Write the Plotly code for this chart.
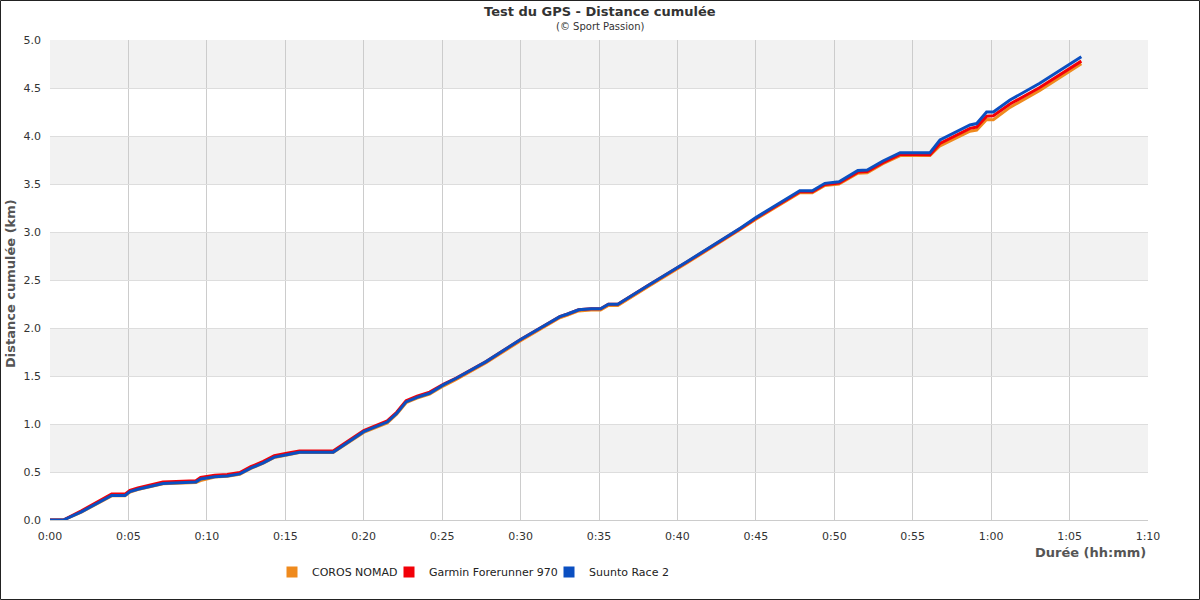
import plotly.graph_objects as go

# --- Data (time in minutes, distance in km) ---
minutes = [0, 0.85, 2.0, 3.0, 3.93, 4.78, 5.1, 5.6, 6.4, 7.2, 9.3, 9.6, 10.5, 11.3, 12.1,
           12.8, 13.6, 14.3, 15.1, 15.9, 18.05, 19.0, 20.0, 21.5, 22.1, 22.7, 23.4, 24.2,
           25.1, 25.9, 27.8, 30.0, 32.5, 33.0, 33.7, 34.5, 35.1, 35.6, 36.2, 38.2, 40.6,
           44.0, 45.0, 47.8, 48.6, 49.4, 50.3, 51.5, 52.1, 53.1, 54.2, 56.1, 56.74, 58.65,
           59.08, 59.71, 60.14, 61.2, 63.1, 65.75]

suunto = [0, 0, 0.085, 0.17, 0.255, 0.255, 0.295, 0.32, 0.347, 0.38, 0.395, 0.428, 0.45,
          0.458, 0.48, 0.54, 0.595, 0.655, 0.68, 0.705, 0.705, 0.81, 0.92, 1.02, 1.11, 1.23,
          1.278, 1.32, 1.41, 1.476, 1.65, 1.88, 2.118, 2.146, 2.19, 2.2, 2.2, 2.247, 2.247,
          2.45, 2.69, 3.04, 3.15, 3.43, 3.43, 3.507, 3.524, 3.64, 3.646, 3.74, 3.826, 3.826,
          3.958, 4.115, 4.13, 4.25, 4.25, 4.375, 4.55, 4.826]

garmin = [0, 0, 0.095, 0.183, 0.27, 0.27, 0.31, 0.335, 0.362, 0.395, 0.41, 0.443, 0.465,
          0.473, 0.495, 0.555, 0.61, 0.67, 0.695, 0.72, 0.72, 0.823, 0.932, 1.032, 1.122,
          1.242, 1.29, 1.332, 1.415, 1.478, 1.65, 1.88, 2.118, 2.146, 2.19, 2.2, 2.2, 2.247,
          2.247, 2.45, 2.687, 3.035, 3.144, 3.42, 3.42, 3.495, 3.509, 3.624, 3.63, 3.723,
          3.809, 3.806, 3.923, 4.08, 4.093, 4.207, 4.21, 4.333, 4.505, 4.78]

coros = [0, 0, 0.082, 0.167, 0.252, 0.252, 0.292, 0.317, 0.344, 0.377, 0.39, 0.41, 0.447,
         0.455, 0.477, 0.537, 0.592, 0.652, 0.677, 0.702, 0.702, 0.802, 0.912, 1.012, 1.102,
         1.222, 1.27, 1.312, 1.398, 1.464, 1.638, 1.868, 2.106, 2.134, 2.178, 2.188, 2.188,
         2.235, 2.235, 2.438, 2.677, 3.025, 3.134, 3.41, 3.41, 3.485, 3.499, 3.613, 3.618,
         3.711, 3.796, 3.796, 3.898, 4.05, 4.062, 4.172, 4.17, 4.298, 4.475, 4.752]

series_names = ["COROS NOMAD", "Garmin Forerunner 970", "Suunto Race 2"]
series_colors = ["#EF8A1D", "#F20008", "#0B4FC1"]

x_tick_vals = [0, 5, 10, 15, 20, 25, 30, 35, 40, 45, 50, 55, 60, 65, 70]
x_tick_text = ["0:00", "0:05", "0:10", "0:15", "0:20", "0:25", "0:30", "0:35", "0:40",
               "0:45", "0:50", "0:55", "1:00", "1:05", "1:10"]
y_tick_vals = [0, 0.5, 1, 1.5, 2, 2.5, 3, 3.5, 4, 4.5, 5]
y_tick_text = ["0.0", "0.5", "1.0", "1.5", "2.0", "2.5", "3.0", "3.5", "4.0", "4.5", "5.0"]
bands = [(0.5, 1.0), (1.5, 2.0), (2.5, 3.0), (3.5, 4.0), (4.5, 5.0)]

FONT = "DejaVu Sans, Noto Sans, sans-serif"

W, H = 1200, 600
L, R, T, B = 50, 52, 40, 80
pw, ph = W - L - R, H - T - B

def px_x(p):
    return (p - L) / pw

def px_y(p):
    return (H - B - p) / ph

fig = go.Figure()
for name, col, vals in zip(series_names, series_colors, [coros, garmin, suunto]):
    fig.add_trace(go.Scatter(x=minutes, y=vals, mode="lines", name=name,
                             line=dict(color=col, width=3), legendgroup=name,
                             showlegend=False, hoverinfo="x+y+name"))

legend_ids = ["legend", "legend2", "legend3"]
legend_left = [272, 389, 549]
for name, col, lid in zip(series_names, series_colors, legend_ids):
    fig.add_trace(go.Scatter(x=[None], y=[None], mode="markers", name=name,
                             marker=dict(color=col, symbol="square", size=11),
                             legendgroup=name, showlegend=True, legend=lid))

shapes = []
for y0, y1 in bands:
    shapes.append(dict(type="rect", xref="paper", yref="y", x0=0, x1=1, y0=y0, y1=y1,
                       fillcolor="#F2F2F2", line=dict(width=0), layer="below"))
# outer frame
shapes.append(dict(type="rect", xref="paper", yref="paper",
                   x0=px_x(0.5), x1=px_x(W - 0.5), y0=px_y(H - 0.5), y1=px_y(0.5),
                   line=dict(color="#222222", width=1), fillcolor="rgba(0,0,0,0)",
                   layer="above"))

legend_style = dict(orientation="h", xanchor="left", y=px_y(572), yanchor="middle",
                    font=dict(family=FONT, size=11, color="#222222"),
                    itemwidth=30, bgcolor="rgba(0,0,0,0)")

fig.update_layout(
    width=W, height=H,
    margin=dict(l=L, r=R, t=T, b=B, autoexpand=False),
    paper_bgcolor="white", plot_bgcolor="white",
    font=dict(family=FONT, size=11, color="#333333"),
    shapes=shapes,
    showlegend=True,
    legend=dict(x=px_x(legend_left[0]), **legend_style),
    legend2=dict(x=px_x(legend_left[1]), **legend_style),
    legend3=dict(x=px_x(legend_left[2]), **legend_style),
    annotations=[
        dict(text="<b>Test du GPS - Distance cumulée</b>", xref="paper", yref="paper",
             x=px_x(600), y=px_y(11), xanchor="center", yanchor="middle",
             showarrow=False, font=dict(family=FONT, size=13, color="#333333")),
        dict(text="(© Sport Passion)", xref="paper", yref="paper",
             x=px_x(600), y=px_y(26), xanchor="center", yanchor="middle",
             showarrow=False, font=dict(family=FONT, size=10, color="#333333")),
        dict(text="<b>Durée (hh:mm)</b>", xref="paper", yref="paper",
             x=1.0, y=px_y(552), xanchor="right", yanchor="middle",
             showarrow=False, font=dict(family=FONT, size=13, color="#555555")),
        dict(text="<b>Distance cumulée (km)</b>", xref="paper", yref="paper",
             x=px_x(10), y=px_y(284), xanchor="center", yanchor="middle",
             textangle=-90, showarrow=False, font=dict(family=FONT, size=13, color="#555555")),
    ],
)
fig.update_xaxes(range=[0, 70], tickvals=x_tick_vals, ticktext=x_tick_text,
                 showgrid=True, gridcolor="#CCCCCC", gridwidth=1, zeroline=False,
                 showline=True, linecolor="#CCCCCC", linewidth=1, ticks="",
                 ticklabelstandoff=6, tickfont=dict(size=11, color="#333333"), fixedrange=True)
fig.update_yaxes(range=[0, 5], tickvals=y_tick_vals, ticktext=y_tick_text,
                 showgrid=True, gridcolor="#DDDDDD", gridwidth=1, zeroline=False,
                 showline=False, ticks="", ticklabelstandoff=8,
                 tickfont=dict(size=11, color="#333333"), fixedrange=True)

fig.write_html("out.html", config={"displayModeBar": False},
               post_script="document.body.style.margin='0';document.body.style.overflow='hidden';")
